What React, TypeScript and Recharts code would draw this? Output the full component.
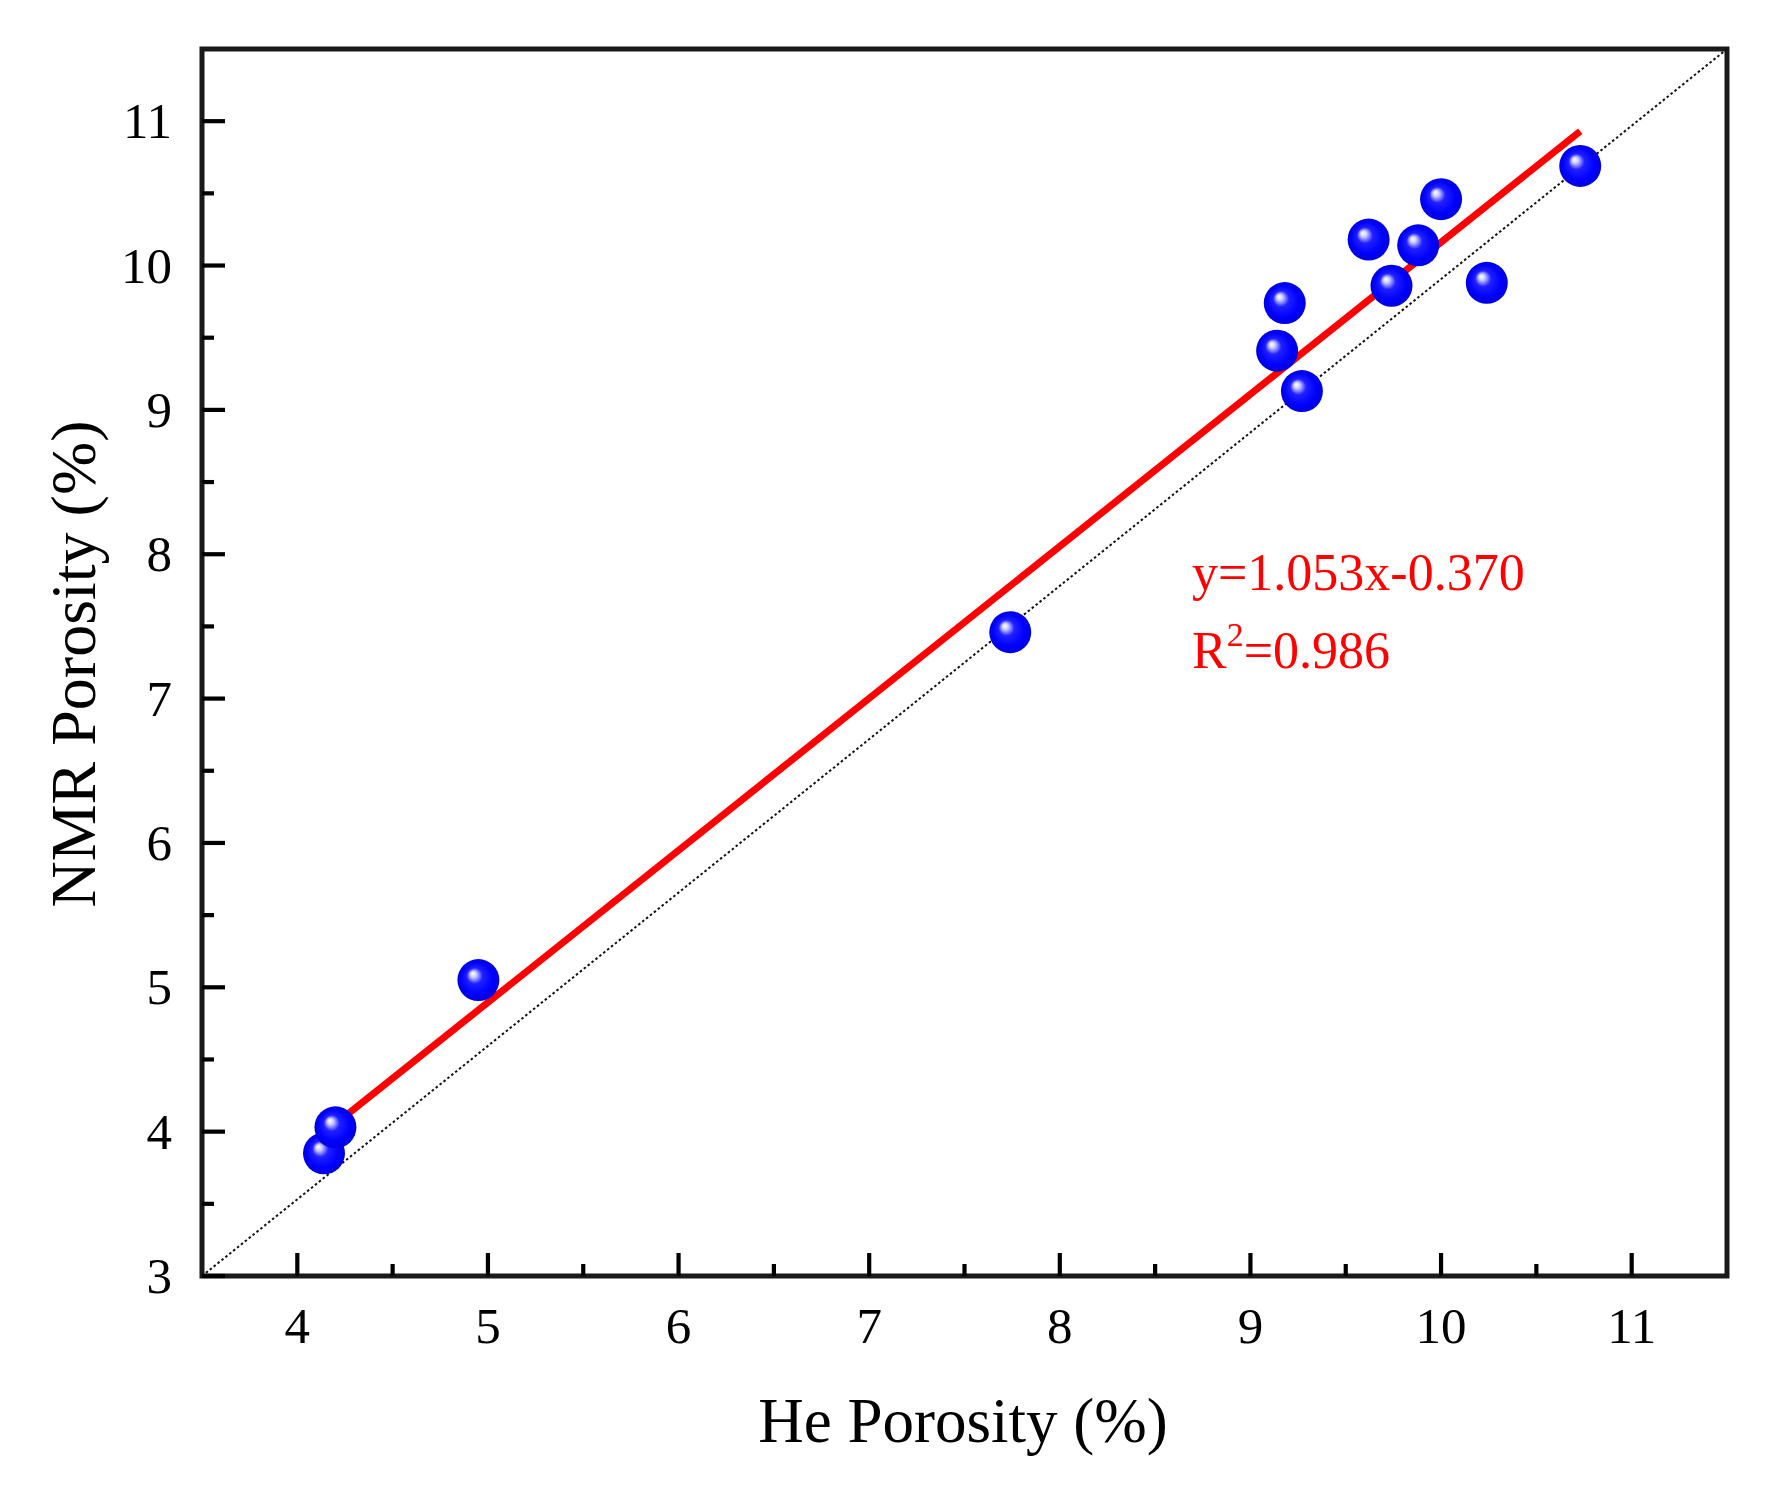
import React from 'react';
import { ScatterChart, Scatter, XAxis, YAxis, ReferenceLine, ReferenceArea } from 'recharts';

const heX = [4.14, 4.2, 4.95, 7.74, 9.14, 9.18, 9.27, 9.62, 9.74, 9.88, 10.0, 10.24, 10.73];
const nmrY = [3.85, 4.03, 5.05, 7.46, 9.41, 9.74, 9.13, 10.18, 9.86, 10.14, 10.46, 9.88, 10.69];
const fitX = [4.14, 10.73];
const fitY = [3.99, 10.93];
const diagX = [3.5, 11.5];
const diagY = [3, 11.5];
const xTicks = [4, 4.5, 5, 5.5, 6, 6.5, 7, 7.5, 8, 8.5, 9, 9.5, 10, 10.5, 11];
const yTicks = [3, 3.5, 4, 4.5, 5, 5.5, 6, 6.5, 7, 7.5, 8, 8.5, 9, 9.5, 10, 10.5, 11];
const xDomain = [3.5, 11.5];
const yDomain = [3, 11.5];
const equationText = 'y=1.053x-0.370';
const r2Text = '=0.986';
const xTitle = 'He Porosity (%)';
const yTitle = 'NMR Porosity (%)';

const points = heX.map((x, i) => ({ x, y: nmrY[i] }));

const FONT = '"Liberation Serif", "Times New Roman", serif';

const XTick = (props: any) => {
  const { x, y, payload } = props;
  const v = payload.value;
  const major = Number.isInteger(v);
  return (
    <g>
      <line x1={x} x2={x} y1={y} y2={y - (major ? 23 : 12)} stroke="#000" strokeWidth={4.2} />
      {major && (
        <text x={x} y={y + 67} textAnchor="middle" fontFamily={FONT} fontSize={51} fill="#000">
          {v}
        </text>
      )}
    </g>
  );
};

const YTick = (props: any) => {
  const { x, y, payload } = props;
  const v = payload.value;
  const major = Number.isInteger(v);
  return (
    <g>
      <line x1={x} x2={x + (major ? 23 : 12)} y1={y} y2={y} stroke="#000" strokeWidth={4.2} />
      {major && (
        <text x={x - 30} y={y + 17} textAnchor="end" fontFamily={FONT} fontSize={51} fill="#000">
          {v}
        </text>
      )}
    </g>
  );
};

const Sphere = (props: any) => {
  const { cx, cy, index } = props;
  if (cx == null || cy == null) return null;
  const id = `sph-${index}`;
  return (
    <g>
      <defs>
        <radialGradient id={id} cx="0.5" cy="0.5" r="0.5" fx="0.36" fy="0.34">
          <stop offset="0%" stopColor="#ffffff" />
          <stop offset="14%" stopColor="#d0d0ff" />
          <stop offset="38%" stopColor="#2020ff" />
          <stop offset="75%" stopColor="#0000ff" />
          <stop offset="100%" stopColor="#0000dd" />
        </radialGradient>
      </defs>
      <circle cx={cx} cy={cy} r={21} fill={`url(#${id})`} />
    </g>
  );
};

export default function App() {
  return (
    <div style={{ position: 'absolute', left: 0, top: 0, width: 1773, height: 1495, background: '#fff' }}>
      <ScatterChart width={1773} height={1495} margin={{ top: 49, right: 46, bottom: 0, left: 0 }}>
        <XAxis
          type="number"
          dataKey="x"
          domain={xDomain}
          ticks={xTicks}
          allowDataOverflow
          height={219}
          axisLine={false}
          tickLine={false}
          tickSize={0}
          tickMargin={0}
          interval={0}
          tick={<XTick />}
        />
        <YAxis
          type="number"
          dataKey="y"
          domain={yDomain}
          ticks={yTicks}
          allowDataOverflow
          width={202}
          axisLine={false}
          tickLine={false}
          tickSize={0}
          tickMargin={0}
          interval={0}
          tick={<YTick />}
        />
        <ReferenceLine
          segment={[{ x: diagX[0], y: diagY[0] }, { x: diagX[1], y: diagY[1] }]}
          stroke="#111"
          strokeWidth={2}
          strokeDasharray="2.5 2.5"
        />
        <ReferenceLine
          segment={[{ x: fitX[0], y: fitY[0] }, { x: fitX[1], y: fitY[1] }]}
          stroke="#ff0000"
          strokeWidth={7}
        />
        <Scatter data={points} shape={<Sphere />} isAnimationActive={false} />
        <ReferenceArea
          x1={xDomain[0]}
          x2={xDomain[1]}
          y1={yDomain[0]}
          y2={yDomain[1]}
          fill="none"
          fillOpacity={0}
          stroke="#1a1a1a"
          strokeWidth={5}
        />
        <text x={1192} y={590} fontFamily={FONT} fontSize={52} fill="#ff0000">
          {equationText}
        </text>
        <text x={1192} y={668} fontFamily={FONT} fontSize={52} fill="#ff0000">
          R
          <tspan fontSize={34} dy={-22}>2</tspan>
          <tspan dy={22}>{r2Text}</tspan>
        </text>
        <text x={963} y={1442} textAnchor="middle" fontFamily={FONT} fontSize={63} fill="#000">
          {xTitle}
        </text>
        <text
          x={95}
          y={664}
          textAnchor="middle"
          fontFamily={FONT}
          fontSize={64}
          fill="#000"
          transform="rotate(-90 95 664)"
        >
          {yTitle}
        </text>
      </ScatterChart>
    </div>
  );
}
